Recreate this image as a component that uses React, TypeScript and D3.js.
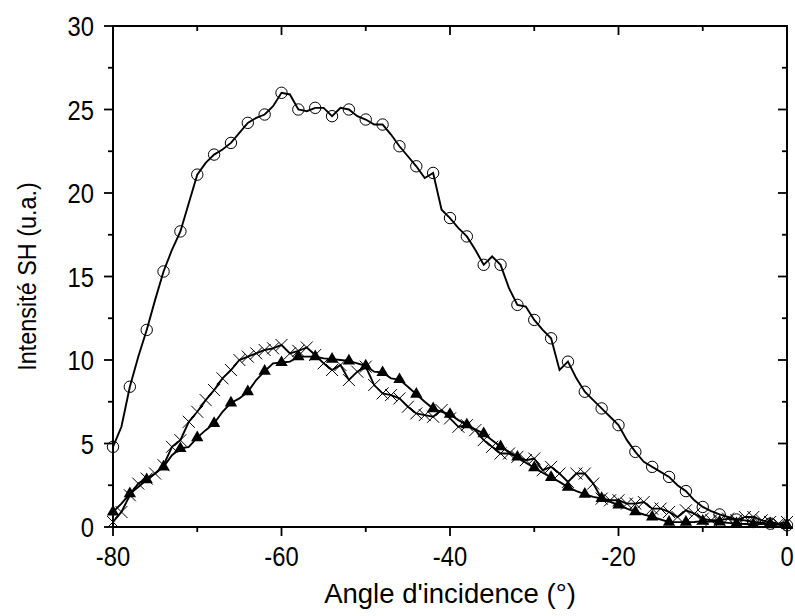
import React from "react";
import * as d3 from "d3";

const angles: number[] = d3.range(-80, 1, 1);

// open circles series
const circleSeries: number[] = [
  4.8, 6.0, 8.4, 10.2, 11.8, 13.6, 15.3, 16.6, 17.7, 19.4,
  21.1, 21.8, 22.3, 22.6, 23.0, 23.6, 24.2, 24.5, 24.7, 25.2,
  26.0, 25.9, 25.0, 24.9, 25.1, 25.1, 24.6, 25.1, 25.0, 24.6,
  24.4, 24.1, 24.1, 23.5, 22.8, 22.2, 21.6, 20.9, 21.2, 19.0,
  18.5, 17.9, 17.4, 16.6, 15.7, 16.2, 15.7, 14.3, 13.3, 13.2,
  12.4, 11.8, 11.3, 9.4, 9.9, 8.9, 8.1, 7.6, 7.1, 6.6,
  6.1, 5.2, 4.5, 3.9, 3.6, 3.3, 3.0, 2.5, 2.15, 1.6,
  1.2, 0.95, 0.75, 0.6, 0.45, 0.4, 0.3, 0.25, 0.2, 0.15,
  0.1,
];

// filled triangles series
const triangleSeries: number[] = [
  0.9, 1.4, 2.0, 2.4, 2.83, 3.2, 3.6, 4.3, 4.7, 4.8,
  5.35, 5.8, 6.2, 6.9, 7.43, 7.7, 8.1, 8.8, 9.33, 9.8,
  9.85, 9.9, 10.2, 10.2, 10.2, 10.1, 10.05, 10.0, 9.95, 9.8,
  9.65, 9.3, 9.25, 8.9, 8.83, 8.4, 7.95, 7.5, 7.09, 6.9,
  6.75, 6.4, 6.12, 5.85, 5.59, 5.2, 4.81, 4.5, 4.19, 3.85,
  3.55, 3.25, 2.97, 2.7, 2.39, 2.15, 1.97, 1.8, 1.71, 1.5,
  1.32, 1.1, 0.91, 0.75, 0.61, 0.45, 0.29, 0.29, 0.29, 0.3,
  0.35, 0.33, 0.3, 0.25, 0.2, 0.18, 0.15, 0.18, 0.2, 0.15,
  0.1,
];

// crosses series
const crossSeries: number[] = [
  0.3, 0.9, 1.9, 2.6, 2.9, 3.2, 3.7, 4.8, 5.2, 6.3,
  6.9, 7.6, 8.2, 8.9, 9.4, 10.0, 10.2, 10.4, 10.6, 10.7,
  10.9, 10.4, 10.55, 10.75, 10.3, 9.8, 9.4, 9.7, 8.8, 9.3,
  9.6, 8.5, 8.0, 7.9, 7.7, 7.2, 6.8, 6.7, 6.6, 7.0,
  6.5, 6.0, 6.1, 5.8, 5.2, 4.8, 4.4, 4.4, 4.2, 4.0,
  4.1, 3.4, 3.6, 3.2, 2.7, 3.2, 3.2, 2.6, 1.7, 1.6,
  1.6, 1.4, 1.4, 1.5, 1.1, 1.1, 0.9, 0.6, 1.0, 0.8,
  0.5, 0.4, 0.4, 0.5, 0.4, 0.6, 0.6, 0.4, 0.3, 0.2,
  0.3,
];

const xMajorTicks: number[] = [-80, -60, -40, -20, 0];
const xMinorTicks: number[] = [-70, -50, -30, -10];
const yMajorTicks: number[] = [0, 5, 10, 15, 20, 25, 30];
const yMinorTicks: number[] = [2.5, 7.5, 12.5, 17.5, 22.5, 27.5];

const xTitle = "Angle d'incidence (°)";
const yTitle = "Intensité SH (u.a.)";

const W = 795;
const H = 616;
const M = { left: 113, right: 787, top: 26, bottom: 527 };
const FONT = "'Liberation Sans', Arial, sans-serif";

export default function App() {
  const x = d3.scaleLinear().domain([-80, 0]).range([M.left, M.right]);
  const y = d3.scaleLinear().domain([0, 30]).range([M.bottom, M.top]);

  const mk = (vals: number[]) => angles.map((a, i) => [a, vals[i]] as [number, number]);
  const line = d3
    .line<[number, number]>()
    .x((d) => x(d[0]))
    .y((d) => y(d[1]));

  const circ = mk(circleSeries);
  const tri = mk(triangleSeries);
  const crs = mk(crossSeries);

  const triPath = d3.symbol().type(d3.symbolTriangle).size(66)() as string;

  const majorLen = 9;
  const minorLen = 5;

  return (
    <svg
      width={W}
      height={H}
      style={{ position: "fixed", left: 0, top: 0, background: "#fff" }}
      fontFamily={FONT}
    >
      <rect x={0} y={0} width={W} height={H} fill="#fff" />
      {/* series lines */}
      <path d={line(crs) as string} fill="none" stroke="#000" strokeWidth={1.9} />
      <path d={line(tri) as string} fill="none" stroke="#000" strokeWidth={1.9} />
      <path d={line(circ) as string} fill="none" stroke="#000" strokeWidth={1.9} />

      {/* markers */}
      {circ
        .filter((d) => d[0] % 2 === 0)
        .map((d, i) => (
          <circle key={"c" + i} cx={x(d[0])} cy={y(d[1])} r={5.7} fill="none" stroke="#000" strokeWidth={1} />
        ))}
      {tri
        .filter((d) => d[0] % 2 === 0)
        .map((d, i) => (
          <path key={"t" + i} d={triPath} transform={`translate(${x(d[0])},${y(d[1])})`} fill="#000" />
        ))}
      {crs.map((d, i) => {
        const cx = x(d[0]);
        const cy = y(d[1]);
        const s = 6;
        return (
          <g key={"x" + i} stroke="#000" strokeWidth={1}>
            <line x1={cx - s} y1={cy - s} x2={cx + s} y2={cy + s} />
            <line x1={cx - s} y1={cy + s} x2={cx + s} y2={cy - s} />
          </g>
        );
      })}

      {/* frame */}
      <rect
        x={M.left}
        y={M.top}
        width={M.right - M.left}
        height={M.bottom - M.top}
        fill="none"
        stroke="#000"
        strokeWidth={2}
      />

      {/* x ticks */}
      {xMajorTicks.map((t) => (
        <g key={"xm" + t} stroke="#000" strokeWidth={1.8}>
          <line x1={x(t)} x2={x(t)} y1={M.bottom} y2={M.bottom + majorLen} />
          <line x1={x(t)} x2={x(t)} y1={M.top} y2={M.top + majorLen} />
        </g>
      ))}
      {xMinorTicks.map((t) => (
        <g key={"xn" + t} stroke="#000" strokeWidth={1.8}>
          <line x1={x(t)} x2={x(t)} y1={M.bottom} y2={M.bottom + minorLen} />
          <line x1={x(t)} x2={x(t)} y1={M.top} y2={M.top + minorLen} />
        </g>
      ))}
      {yMajorTicks.map((t) => (
        <g key={"ym" + t} stroke="#000" strokeWidth={1.8}>
          <line x1={M.left - majorLen} x2={M.left} y1={y(t)} y2={y(t)} />
          <line x1={M.right - majorLen} x2={M.right} y1={y(t)} y2={y(t)} />
        </g>
      ))}
      {yMinorTicks.map((t) => (
        <g key={"yn" + t} stroke="#000" strokeWidth={1.8}>
          <line x1={M.left - minorLen} x2={M.left} y1={y(t)} y2={y(t)} />
          <line x1={M.right - minorLen} x2={M.right} y1={y(t)} y2={y(t)} />
        </g>
      ))}

      {/* tick labels */}
      {xMajorTicks.map((t) => (
        <g key={"xl" + t} transform={`translate(${x(t)},${M.bottom + 39}) scale(0.85,1)`}>
          <text textAnchor="middle" fontSize={28} fill="#000">
            {t}
          </text>
        </g>
      ))}
      {yMajorTicks.map((t) => (
        <g key={"yl" + t} transform={`translate(${M.left - 19},${y(t) + 10}) scale(0.85,1)`}>
          <text textAnchor="end" fontSize={28} fill="#000">
            {t}
          </text>
        </g>
      ))}

      {/* titles */}
      <text x={(M.left + M.right) / 2} y={603} textAnchor="middle" fontSize={27.5} fill="#000">
        {xTitle}
      </text>
      <g transform={`translate(36,${(M.top + M.bottom) / 2}) rotate(-90) scale(0.9,1)`}>
        <text textAnchor="middle" fontSize={26} fill="#000">
          {yTitle}
        </text>
      </g>
    </svg>
  );
}
